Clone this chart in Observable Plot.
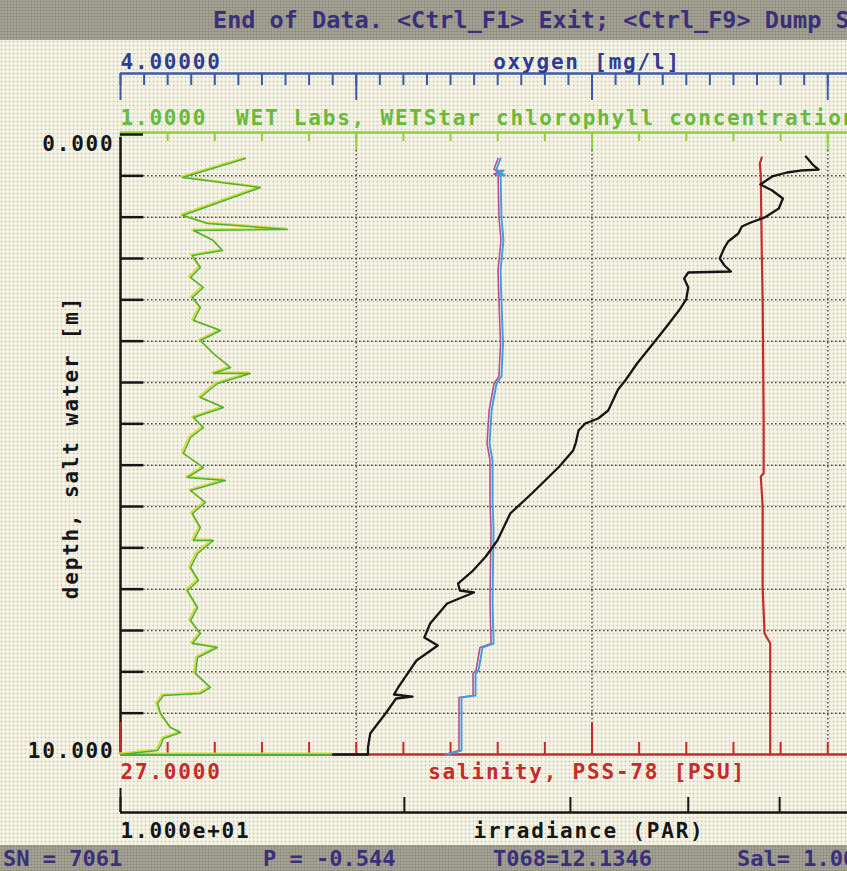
<!DOCTYPE html>
<html>
<head>
<meta charset="utf-8">
<script src="https://cdn.jsdelivr.net/npm/d3@7"></script>
<script src="https://cdn.jsdelivr.net/npm/@observablehq/plot@0.6"></script>
<style>
  html, body { margin: 0; padding: 0; width: 847px; height: 871px; overflow: hidden; }
  body {
    background-color: #f4f2e3;
    background-image: radial-gradient(circle at 1.5px 1.5px, rgba(150, 150, 138, 0.55) 0.7px, transparent 1.1px);
    background-size: 4px 4px;
  }
  .status { position: relative; overflow: hidden; white-space: pre;
            background-color: #a4a295;
            background-image: radial-gradient(circle at 1.5px 1.5px, rgba(90, 90, 80, 0.35) 0.8px, transparent 1.2px);
            background-size: 3px 3px;
            font-family: "DejaVu Sans Mono", monospace; font-weight: bold; color: #3a2f7a; }
  .status span { position: absolute; }
  #top { height: 40px; }
  #bottom { height: 26px; }
  #chart svg { display: block; }
  #chart svg text { white-space: pre; letter-spacing: 1.8px; }
</style>
</head>
<body>
<div id="top" class="status"></div>
<div id="chart"></div>
<div id="bottom" class="status"></div>
<script>
// ---- Seaplot axis set-up -------------------------------------------------
const depthRange = [0, 10];          // depth, salt water [m]
const oxygenRange = [4, 12];         // oxygen [mg/l]
const chlRange = [1, 5];             // WETStar chlorophyll
const salinityRange = [27, 37];      // PSS-78
const parRange = [10, 100];          // irradiance (PAR), log axis

const axisMinLabels = ["4.00000", "1.0000", "27.0000", "1.000e+01"];
const depthLabels = ["0.000", "10.000"];
const axisTitles = ["oxygen [mg/l]", "WET Labs, WETStar chlorophyll concentration [mg/m^3]",
                    "salinity, PSS-78 [PSU]", "irradiance (PAR)", "depth, salt water [m]"];
const parTicks = [10, 20, 30, 40, 50, 60, 70, 80, 90, 100];
const oxygenMajor = [4, 6, 8, 10, 12];
const salinityMajor = [27, 32, 37];

const statusTop = "End of Data. <Ctrl_F1> Exit; <Ctrl_F9> Dump Screen";
const statusFields = ["SN = 7061", "P = -0.544", "T068=12.1346", "Sal= 1.0000"];

// ---- cast profile --------------------------------------------------------
const parDepth = [0.355, 0.484, 0.565, 0.581, 0.613, 0.677, 0.806, 0.903, 1.032, 1.194, 1.339, 1.419, 1.484, 1.597, 1.726, 1.823, 2.0, 2.113, 2.21, 2.226, 2.323, 2.468, 2.661, 2.839, 3.129, 3.419, 3.694, 3.968, 4.113, 4.452, 4.581, 4.661, 4.774, 4.968, 5.097, 5.355, 5.581, 5.79, 6.113, 6.548, 6.806, 7.048, 7.242, 7.355, 7.387, 7.565, 7.887, 8.113, 8.242, 8.484, 8.919, 9.032, 9.065, 9.097, 9.339, 9.661, 9.887, 10.0, 10.0];
const parValue = [53.3, 54.2, 55.0, 52.6, 50.9, 49.1, 47.7, 49.1, 50.4, 49.9, 48.2, 46.6, 45.6, 45.2, 44.1, 43.7, 43.2, 43.7, 44.4, 40.0, 39.6, 40.0, 39.8, 39.1, 37.8, 36.5, 35.3, 34.3, 33.7, 32.9, 32.1, 31.1, 30.6, 30.4, 30.2, 29.2, 28.2, 27.3, 25.9, 25.1, 24.4, 23.6, 22.8, 22.9, 23.7, 22.2, 21.3, 21.0, 21.7, 20.6, 19.7, 19.5, 20.4, 19.6, 19.1, 18.4, 18.3, 18.3, 16.8];

const oxDepth = [0.387, 0.56, 0.66, 0.64, 0.58, 0.613, 1.339, 1.71, 2.194, 2.677, 3.371, 3.903, 4.016, 4.452, 4.984, 5.258, 5.903, 6.387, 7.516, 8.21, 8.274, 8.645, 8.694, 9.048, 9.081, 9.935, 10];
const oxValue = [7.224, 7.19, 7.26, 7.19, 7.25, 7.224, 7.232, 7.249, 7.224, 7.232, 7.245, 7.232, 7.19, 7.148, 7.131, 7.156, 7.156, 7.165, 7.156, 7.165, 7.071, 7.037, 7.012, 7.012, 6.893, 6.893, 6.774];

const salDepth = [0.371, 0.468, 0.661, 1.871, 2.677, 4.613, 5.468, 5.516, 6.0, 7.323, 8.048, 8.21, 10];
const salValue = [33.80, 33.78, 33.79, 33.80, 33.81, 33.82, 33.82, 33.79, 33.81, 33.81, 33.83, 33.89, 33.89];

const chlDepth = [0.387, 0.694, 0.855, 1.306, 1.435, 1.532, 1.548, 1.71, 1.871, 1.952, 2.145, 2.306, 2.468, 2.629, 2.79, 3.0, 3.161, 3.323, 3.532, 3.758, 3.855, 3.855, 4.016, 4.242, 4.403, 4.565, 4.726, 4.887, 5.145, 5.371, 5.532, 5.581, 5.742, 5.935, 6.113, 6.339, 6.548, 6.548, 6.758, 6.984, 7.194, 7.355, 7.629, 7.839, 8.048, 8.21, 8.274, 8.435, 8.694, 8.919, 9.016, 9.048, 9.177, 9.339, 9.565, 9.645, 9.742, 9.855, 9.935, 10, 10];
const chlValue = [1.530, 1.263, 1.594, 1.263, 1.369, 1.708, 1.310, 1.394, 1.433, 1.305, 1.339, 1.297, 1.352, 1.305, 1.339, 1.310, 1.424, 1.339, 1.394, 1.467, 1.394, 1.551, 1.411, 1.339, 1.437, 1.310, 1.352, 1.297, 1.267, 1.352, 1.284, 1.445, 1.297, 1.361, 1.305, 1.339, 1.310, 1.394, 1.327, 1.297, 1.331, 1.284, 1.327, 1.297, 1.339, 1.305, 1.411, 1.327, 1.318, 1.382, 1.339, 1.182, 1.157, 1.170, 1.212, 1.255, 1.182, 1.170, 1.157, 1.000, 1.904];

// ---- status bars -----------------------------------------------------------
const topBar = document.getElementById("top");
const topSpan = document.createElement("span");
topSpan.style.cssText = "left:213px;top:6px;font-size:23.5px;line-height:28px";
topSpan.textContent = statusTop;
topBar.appendChild(topSpan);
const bottomBar = document.getElementById("bottom");
[3, 263, 493, 737].forEach((left, i) => {
  const s = document.createElement("span");
  s.style.cssText = `left:${left}px;top:1px;font-size:22px;line-height:26px`;
  s.textContent = statusFields[i];
  bottomBar.appendChild(s);
});

// ---- every axis shares one normalised x position (0 = left edge, 1 = right edge)
const lin = ([a, b]) => v => (v - a) / (b - a);
const fOx = lin(oxygenRange), fChl = lin(chlRange), fSal = lin(salinityRange);
const fPar = v => Math.log10(v / parRange[0]) / Math.log10(parRange[1] / parRange[0]);

const W = 847, H = 805;
const FT = 94, FB = 714;            // depth 0 and depth 10 in svg pixels
const LEFT = 120, RIGHT = 1063;     // the frame runs on past the window's right edge
const py = y => y - 40;             // window row to svg row (status bar above)

const navy = "#2f3c92", blueAxis = "#4058a8", green = "#67ba3a", greenAxis = "#8fd13f",
      red = "#c62b2b", ink = "#161616", grid = "#4a4a46";
const font = {fontFamily: "DejaVu Sans Mono, monospace", fontWeight: "bold", fontSize: 21};

const hLine = (yWin, stroke, sw = 2) =>
  Plot.ruleY([depthRange[0]], {dy: py(yWin) - FT, stroke, strokeWidth: sw});
const vTicks = (values, frac, y1, y2, stroke, sw = 2, extra = {}) =>
  Plot.ruleX(values, {x: frac, insetTop: py(y1) - FT, insetBottom: FB - py(y2), stroke, strokeWidth: sw, ...extra});

const depthTicks = d3.range(0, 16).map(k => k * (depthRange[1] - depthRange[0]) / 15);
const oxMinor = d3.range(0, 41).map(k => oxygenRange[0] + k * 0.2);
const chlMinor = d3.range(0, 21).map(k => chlRange[0] + k * 0.2);
const chlMajor = [2, 3, 4, 5];
const salMinor = d3.range(0, 21).map(k => salinityRange[0] + k * 0.5);

const zip = (ds, vs, f) => ds.map((d, i) => ({depth: d, x: f(vs[i])}));
const par = zip(parDepth, parValue, fPar);
const oxy = zip(oxDepth, oxValue, fOx);
const sal = zip(salDepth, salValue, fSal);
const chl = zip(chlDepth, chlValue, fChl);

const chart = Plot.plot({
  width: W, height: H,
  marginLeft: LEFT, marginRight: 0, marginTop: FT, marginBottom: H - FB,
  x: {domain: [0, 1], range: [LEFT, RIGHT], axis: null},
  y: {domain: depthRange, range: [FT, FB], axis: null},
  style: {background: "transparent", overflow: "hidden", maxWidth: "none"},
  marks: [
    // dotted grid
    Plot.ruleY(depthTicks.slice(1, -1), {insetLeft: 23, stroke: grid, strokeWidth: 1.5, strokeDasharray: "1.6,2.4"}),
    vTicks(oxygenMajor.slice(1, -1), fOx, 150, 754, grid, 1.5, {strokeDasharray: "1.6,2.4"}),

    // oxygen axis (top)
    hLine(73, blueAxis, 2.5),
    vTicks(oxMinor, fOx, 73, 85, blueAxis, 2),
    vTicks(oxygenMajor, fOx, 73, 100, blueAxis, 2),

    // chlorophyll axis
    hLine(132, greenAxis, 2.5),
    vTicks(chlMinor, fChl, 132, 141, greenAxis, 2),
    vTicks(chlMajor, fChl, 132, 150, greenAxis, 2),

    // depth axis
    Plot.ruleX([0], {insetTop: py(137) - FT, stroke: ink, strokeWidth: 2.5}),
    Plot.ruleY(depthTicks.slice(0, -1), {insetRight: W - 143, stroke: ink, strokeWidth: 2.5}),

    // salinity axis (bottom)
    hLine(754, red, 2.5),
    vTicks(salMinor, fSal, 742, 754, red, 2),
    vTicks(salinityMajor, fSal, 722, 754, red, 2),

    // irradiance axis
    hLine(812, ink, 2.5),
    vTicks(parTicks, fPar, 797, 812, ink, 2),
    vTicks([parRange[0]], fPar, 788, 812, ink, 2),

    // profiles
    Plot.line(chl, {x: "x", y: "depth", stroke: "#d6dc3c", strokeWidth: 1.8, dx: -1.5, dy: -1}),
    Plot.line(chl, {x: "x", y: "depth", stroke: "#4fb03a", strokeWidth: 1.5}),
    Plot.line(oxy, {x: "x", y: "depth", stroke: "#b8508e", strokeWidth: 1.6, dx: -2.5}),
    Plot.line(oxy, {x: "x", y: "depth", stroke: "#3f9de2", strokeWidth: 1.9}),
    Plot.line(sal, {x: "x", y: "depth", stroke: red, strokeWidth: 2.2}),
    Plot.line(par, {x: "x", y: "depth", stroke: ink, strokeWidth: 2.3}),

    // axis labels
    Plot.text([axisMinLabels[0]], {frameAnchor: "top-left", dy: 68 - 134, textAnchor: "start", lineAnchor: "bottom", fill: navy, ...font}),
    Plot.text([axisTitles[0]], {x: () => 0.5, frameAnchor: "top", dx: -5, dy: 68 - 134, textAnchor: "middle", lineAnchor: "bottom", fill: navy, ...font}),
    Plot.text([axisMinLabels[1] + "  " + axisTitles[1]], {frameAnchor: "top-left", dy: 124 - 134, textAnchor: "start", lineAnchor: "bottom", fill: green, ...font}),
    Plot.text([depthLabels[0]], {frameAnchor: "top-left", dx: -6, dy: 150 - 134, textAnchor: "end", lineAnchor: "bottom", fill: ink, ...font}),
    Plot.text([depthLabels[1]], {frameAnchor: "bottom-left", dx: -6, dy: 757 - 754, textAnchor: "end", lineAnchor: "bottom", fill: ink, ...font}),
    Plot.text([axisMinLabels[2]], {frameAnchor: "bottom-left", dy: 778 - 754, textAnchor: "start", lineAnchor: "bottom", fill: red, ...font}),
    Plot.text([axisTitles[2]], {x: () => 0.5, frameAnchor: "bottom", dx: -5, dy: 778 - 754, textAnchor: "middle", lineAnchor: "bottom", fill: red, ...font}),
    Plot.text([axisMinLabels[3]], {frameAnchor: "bottom-left", dy: 837 - 754, textAnchor: "start", lineAnchor: "bottom", fill: ink, ...font}),
    Plot.text([axisTitles[3]], {x: () => 0.5, frameAnchor: "bottom", dx: -3, dy: 837 - 754, textAnchor: "middle", lineAnchor: "bottom", fill: ink, ...font}),
    Plot.text([axisTitles[4]], {frameAnchor: "left", rotate: -90, dx: 71 - LEFT, dy: py(447) - (FT + FB) / 2, textAnchor: "middle", lineAnchor: "middle", fill: ink, ...font})
  ]
});
document.getElementById("chart").appendChild(chart);
</script>
</body>
</html>
